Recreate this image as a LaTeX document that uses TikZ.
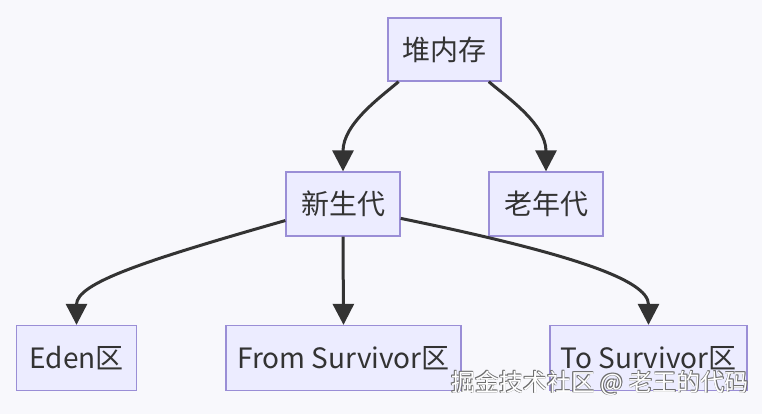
\documentclass[tikz,border=0pt]{standalone}
\usepackage{fontspec}
\setmainfont{Noto Sans CJK SC}
\usetikzlibrary{arrows.meta}
\definecolor{bgc}{HTML}{F8F8FC}
\definecolor{boxfill}{HTML}{ECECFF}
\definecolor{boxline}{HTML}{9A8ED6}
\definecolor{ink}{HTML}{333333}
\definecolor{wmgray}{HTML}{6E6E6E}
\tikzset{
  box/.style={draw=boxline, fill=boxfill, line width=1.3pt, text=ink,
    font=\fontsize{28}{32}\selectfont, minimum height=63pt, inner sep=0pt},
  conn/.style={draw=ink, line width=3pt,
    -{Triangle[width=21pt,length=21pt]}},
  wm/.style={font=\fontsize{24}{28}\selectfont, inner sep=0pt},
}
\begin{document}
\begin{tikzpicture}[x=1pt,y=-1pt]
\useasboundingbox[fill=bgc] (0,0) rectangle (762,414);
\node[box, minimum width=113pt] (heap) at (444.5,49.5) {堆内存};
\node[box, minimum width=114pt, minimum height=64pt] (young) at (343,204) {新生代};
\node[box, minimum width=114pt, minimum height=64pt] (old) at (546,204) {老年代};
\node[box, minimum width=120pt, minimum height=65pt] (eden) at (76.5,358) {Eden区};
\node[box, minimum width=235pt, minimum height=65pt] (from) at (343.5,358) {From Survivor区};
\node[box, minimum width=197pt, minimum height=65pt] (to) at (648.5,358) {To Survivor区};

\draw[conn] (heap.-145) .. controls +(-16,14) and +(0,-48) .. (young.north);
\draw[conn] (heap.-36) .. controls +(16,14) and +(0,-48) .. (old.north);
\draw[conn] (young.196) .. controls +(-140,40) and +(0,-42) .. (eden.north);
\draw[conn] (young.south) -- (from.north);
\draw[conn] (young.-14) .. controls +(170,35) and +(0,-45) .. (to.north);

\node[wm, text=wmgray] (wm1) at (599.3,382.3) {掘金技术社区 @ 老王的代码};
\node[wm, text=wmgray] (wm2) at (600.7,383.7) {掘金技术社区 @ 老王的代码};
\node[wm, text=wmgray] (wm3) at (599.3,383.7) {掘金技术社区 @ 老王的代码};
\node[wm, text=wmgray] (wm4) at (600.7,382.3) {掘金技术社区 @ 老王的代码};
\node[wm, text=white] (wm5) at (600,383) {掘金技术社区 @ 老王的代码};
\end{tikzpicture}
\end{document}
